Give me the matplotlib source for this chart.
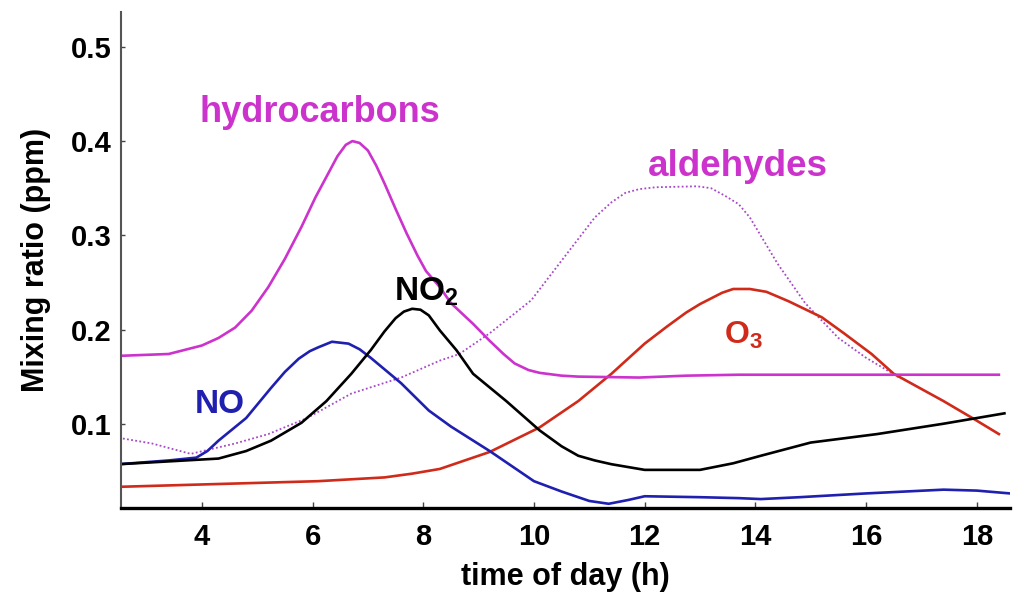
import matplotlib
matplotlib.use("Agg")
import matplotlib.pyplot as plt

# ---- data ----
hc_x = [2.5, 3.4, 4.0, 4.3, 4.6, 4.9, 5.2, 5.5, 5.8, 6.05, 6.25, 6.45, 6.6, 6.72,
        6.85, 7.0, 7.15, 7.3, 7.5, 7.7, 7.9, 8.05, 8.3, 8.5, 8.9, 9.2, 9.45, 9.65,
        9.9, 10.1, 10.5, 10.8, 11.9, 12.75, 13.7, 18.4]
hc_y = [0.172, 0.174, 0.183, 0.191, 0.202, 0.220, 0.245, 0.275, 0.309, 0.340, 0.362,
        0.384, 0.396, 0.400, 0.398, 0.390, 0.374, 0.355, 0.328, 0.302, 0.278, 0.262,
        0.245, 0.228, 0.206, 0.188, 0.174, 0.164, 0.157, 0.154, 0.151, 0.150, 0.149,
        0.151, 0.152, 0.152]

no_x = [2.5, 3.4, 3.9, 4.1, 4.3, 4.8, 5.25, 5.5, 5.75, 5.95, 6.1, 6.35, 6.65, 6.85,
        7.05, 7.6, 8.1, 8.5, 9.2, 9.6, 10.0, 10.5, 11.0, 11.35, 11.7, 12.0, 13.0, 13.7,
        14.1, 14.8, 16.0, 17.4, 18.0, 18.6]
no_y = [0.057, 0.061, 0.064, 0.071, 0.082, 0.106, 0.138, 0.155, 0.169, 0.177, 0.181,
        0.187, 0.185, 0.179, 0.170, 0.143, 0.114, 0.097, 0.071, 0.055, 0.039, 0.028,
        0.018, 0.015, 0.019, 0.023, 0.022, 0.021, 0.020, 0.022, 0.026, 0.030, 0.029,
        0.026]

no2_x = [2.5, 3.7, 4.3, 4.8, 5.25, 5.8, 6.25, 6.7, 7.05, 7.3, 7.5, 7.65, 7.8, 7.95,
         8.1, 8.3, 8.6, 8.9, 9.5, 10.1, 10.5, 10.8, 11.1, 11.4, 12.0, 13.0, 13.6,
         14.1, 15.0, 16.2, 17.4, 18.5]
no2_y = [0.057, 0.061, 0.063, 0.071, 0.082, 0.101, 0.124, 0.153, 0.178, 0.198, 0.212,
         0.219, 0.222, 0.221, 0.215, 0.199, 0.178, 0.153, 0.124, 0.093, 0.076, 0.066,
         0.061, 0.057, 0.051, 0.051, 0.058, 0.066, 0.080, 0.089, 0.100, 0.111]

o3_x = [2.5, 4.3, 6.1, 7.3, 7.8, 8.3, 8.65, 9.2, 10.1, 10.8, 11.4, 12.0, 12.4, 12.75,
        13.0, 13.2, 13.4, 13.6, 13.9, 14.2, 14.6, 15.2, 15.6, 16.1, 16.5, 17.4, 17.95,
        18.4]
o3_y = [0.033, 0.036, 0.039, 0.043, 0.047, 0.052, 0.059, 0.070, 0.096, 0.124, 0.153,
        0.185, 0.203, 0.218, 0.227, 0.233, 0.239, 0.243, 0.243, 0.240, 0.230, 0.213,
        0.196, 0.174, 0.153, 0.124, 0.105, 0.089]

ald_x = [2.5, 3.1, 3.8, 4.6, 5.2, 5.9, 6.7, 7.6, 8.3, 8.65, 9.2, 9.95, 10.55, 11.1,
         11.4, 11.65, 11.9, 12.2, 12.95, 13.2, 13.45, 13.7, 13.9, 14.4, 14.9, 15.5,
         16.0, 16.6]
ald_y = [0.085, 0.079, 0.068, 0.079, 0.089, 0.106, 0.132, 0.149, 0.167, 0.174, 0.196,
         0.231, 0.277, 0.319, 0.335, 0.345, 0.349, 0.351, 0.352, 0.350, 0.342, 0.333,
         0.319, 0.270, 0.228, 0.191, 0.170, 0.149]

x_ticks = [4, 6, 8, 10, 12, 14, 16, 18]
y_ticks = [0.1, 0.2, 0.3, 0.4, 0.5]
y_tick_labels = ["0.1", "0.2", "0.3", "0.4", "0.5"]

plt.rcParams['font.family'] = ['Liberation Sans', 'DejaVu Sans']
plt.rcParams['mathtext.fontset'] = 'custom'
plt.rcParams['mathtext.rm'] = 'Liberation Sans:bold'
plt.rcParams['mathtext.bf'] = 'Liberation Sans:bold'
plt.rcParams['mathtext.default'] = 'bf'

MAG = '#cc33cc'
BLUE = '#1f1fb0'
RED = '#d02a1a'

fig = plt.figure(figsize=(10.13, 6.01), dpi=100)
ax = fig.add_axes([0.1195, 0.1547, 0.997 - 0.1195, 0.980 - 0.1547])

ax.plot(ald_x, ald_y, color='#a848c8', lw=1.3, ls=(0, (1, 1.3)))
ax.plot(o3_x, o3_y, color=RED, lw=1.9)
ax.plot(no_x, no_y, color=BLUE, lw=1.9)
ax.plot(no2_x, no2_y, color='black', lw=1.9)
ax.plot(hc_x, hc_y, color=MAG, lw=1.9)

ax.set_xlim(2.54, 18.6)
ax.set_ylim(0.0105, 0.537)

ax.set_xticks(x_ticks)
ax.set_xticklabels([str(t) for t in x_ticks])
ax.set_yticks(y_ticks)
ax.set_yticklabels(y_tick_labels)

for s in ['top', 'right']:
    ax.spines[s].set_visible(False)
ax.spines['bottom'].set_linewidth(2.4)
ax.spines['bottom'].set_color('black')
ax.spines['left'].set_linewidth(1.5)
ax.spines['left'].set_color('#555555')

ax.tick_params(axis='x', direction='in', length=4, width=1, color='#444444',
               pad=11, labelsize=21)
ax.tick_params(axis='y', direction='in', length=3, width=1, color='#444444',
               pad=7, labelsize=21)
for lab in ax.get_xticklabels() + ax.get_yticklabels():
    lab.set_fontweight('bold')

ax.set_xlabel('time of day (h)', fontsize=22, fontweight='bold', labelpad=8)
ax.set_ylabel('Mixing ratio (ppm)', fontsize=22, fontweight='bold', labelpad=14)

ax.text(6.13, 0.420, 'hydrocarbons', color=MAG, fontsize=26, fontweight='bold',
        ha='center', va='baseline')
ax.text(13.69, 0.363, 'aldehydes', color=MAG, fontsize=26.5, fontweight='bold',
        ha='center', va='baseline')
ax.text(4.32, 0.111, 'NO', color=BLUE, fontsize=24, fontweight='bold',
        ha='center', va='baseline')
ax.text(7.47, 0.231, r'NO$_2$', color='black', fontsize=24, fontweight='bold',
        ha='left', va='baseline')
ax.text(13.44, 0.185, r'O$_3$', color=RED, fontsize=23, fontweight='bold',
        ha='left', va='baseline')

fig.savefig('out.png', dpi=100)
